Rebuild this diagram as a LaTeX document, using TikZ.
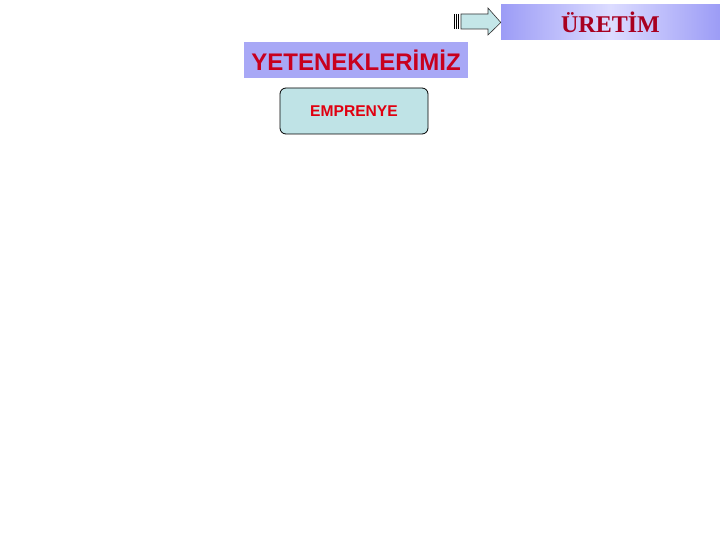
\documentclass[tikz,border=0pt]{standalone}
\usepackage{fontspec}
\setmainfont{Liberation Serif}
\setsansfont{Liberation Sans}
\definecolor{boxblue}{HTML}{A8A8F6}
\definecolor{edgeblue}{HTML}{9C9CF6}
\definecolor{lightblue}{HTML}{DCDCFF}
\definecolor{titlered}{HTML}{A80020}
\definecolor{skillred}{HTML}{C8001E}
\definecolor{itemred}{HTML}{E00010}
\definecolor{cyanfill}{HTML}{BFE3E6}
\definecolor{arrowfill}{HTML}{C4E6E8}
\begin{document}
\begin{tikzpicture}[x=1pt,y=-1pt,
  titlebox/.style={draw=none,left color=edgeblue,right color=edgeblue,middle color=lightblue,shading angle=90,minimum width=219pt,minimum height=35pt,inner sep=0pt,font=\bfseries\fontsize{24}{24}\selectfont,text=titlered},
  skillbox/.style={fill=boxblue,draw=none,minimum width=224pt,minimum height=36pt,inner sep=0pt,font=\sffamily\bfseries\fontsize{24}{24}\selectfont,text=skillred},
  itembox/.style={fill=cyanfill,draw=black,line width=0.8pt,rounded corners=6pt,minimum width=148pt,minimum height=46pt,inner sep=0pt,font=\sffamily\bfseries\fontsize{15.6}{15.6}\selectfont,text=itemred},
  arrowshape/.style={fill=arrowfill,draw=black!80,line width=0.6pt}
]
\useasboundingbox (0,0) rectangle (720,540);
\fill[white] (0,0) rectangle (720,540);
% title box
\node[titlebox] (uretim) at (610.5,22.5) {ÜRETİM};
% arrow
\draw[arrowshape] (461,14) -- (488,14) -- (488,8) -- (uretim.west) -- (488,35) -- (488,29) -- (461,29) -- cycle;
\foreach \xx in {454.5,456.5,458.5}
  \draw[black,line width=0.8pt] (\xx,14) -- (\xx,29);
% skills box
\node[skillbox] (skills) at (356,60) {YETENEKLERİMİZ};
% item
\node[itembox] (emprenye) at (354,111) {EMPRENYE};
\end{tikzpicture}
\end{document}
